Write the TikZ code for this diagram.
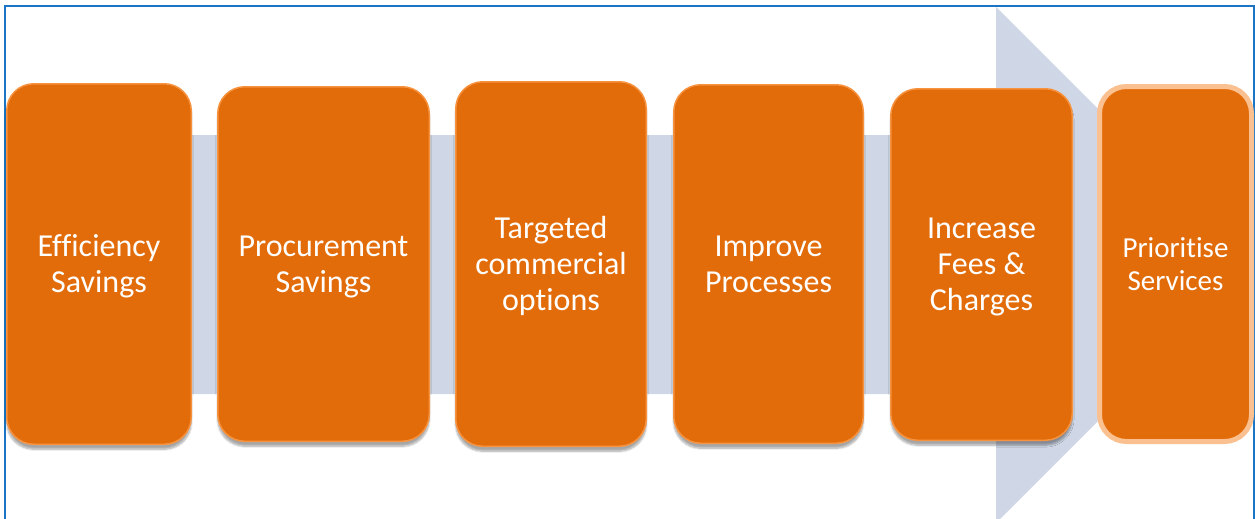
\documentclass[tikz,border=0pt]{standalone}
\usepackage{fontspec}
\setmainfont{Carlito}[Ligatures={NoCommon,NoContextual}]
\usetikzlibrary{shadows,shadows.blur}
\definecolor{boxorange}{HTML}{E36C0A}
\definecolor{boxedge}{HTML}{F7923F}
\definecolor{lightedge}{HTML}{FAC08F}
\definecolor{bandblue}{HTML}{CFD7E6}
\definecolor{frameblue}{HTML}{1B75C4}
\newcommand{\steptext}[1]{\raisebox{-3pt}[\height][\depth]{\begin{tabular}{@{}c@{}}#1\end{tabular}}}
\tikzset{
  stepbox/.style={draw=boxedge, line width=1.5pt, fill=boxorange, rounded corners=27pt,
    text=white, inner sep=0pt,
    font=\fontsize{32}{36}\selectfont,
    blur shadow={shadow xshift=0pt, shadow yshift=-5pt, shadow blur steps=8, shadow blur extra rounding=2pt, shadow opacity=35}},
  lastbox/.style={draw=lightedge, line width=5pt, fill=boxorange, rounded corners=27pt,
    text=white, inner sep=0pt,
    font=\fontsize{29}{33}\selectfont},
}
\begin{document}
\begin{tikzpicture}[x=1pt,y=-1pt]
\useasboundingbox (0,0) rectangle (1255,519);
\begin{scope}
\clip (0,0) rectangle (1255,519);
\fill[bandblue] (10,135) -- (996,135) -- (996,7) -- (1254,265) -- (996,523) -- (996,394) -- (10,394) -- cycle;
\draw[frameblue, line width=2pt] (5,525) -- (5,6) -- (1254,6) -- (1254,525);
\end{scope}
\node[stepbox, minimum width=184.5pt, minimum height=360.5pt] (b1) at (99,264) {\steptext{Efficiency\\Savings}};
\node[stepbox, minimum width=211.5pt, minimum height=354.5pt] (b2) at (323.5,264) {\steptext{Procurement\\Savings}};
\node[stepbox, minimum width=190.5pt, minimum height=364.5pt] (b3) at (551,264) {\steptext{Targeted\\commercial\\options}};
\node[stepbox, minimum width=189.5pt, minimum height=358.5pt] (b4) at (768.5,264) {\steptext{Improve\\Processes}};
\node[stepbox, minimum width=181.5pt, minimum height=351.5pt] (b5) at (981.5,264.5) {\steptext{Increase\\Fees \&\\Charges}};
\node[lastbox, minimum width=152pt, minimum height=355pt] (b6) at (1175.5,264) {\steptext{Prioritise\\Services}};
\end{tikzpicture}
\end{document}
